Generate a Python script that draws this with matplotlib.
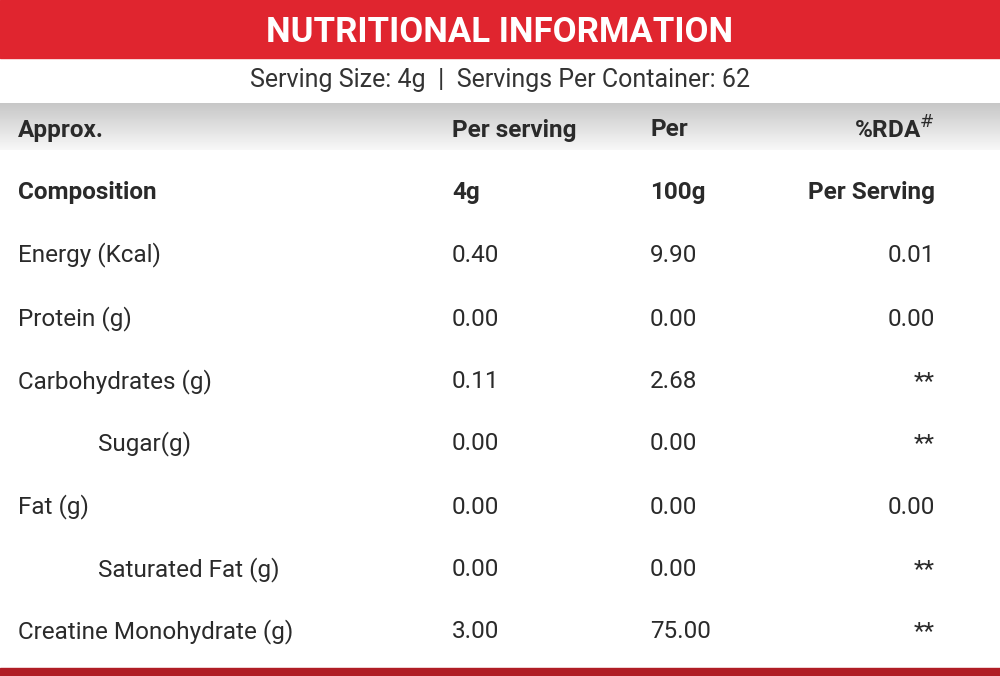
import matplotlib
matplotlib.use("Agg")
import matplotlib.pyplot as plt
import numpy as np

title = "NUTRITIONAL INFORMATION"
serving = "Serving Size: 4g  |  Servings Per Container: 62"
header1 = ["Approx.", "Per serving", "Per", "%RDA$^{\\#}$"]
header2 = ["Composition", "4g", "100g", "Per Serving"]
labels = ["Energy (Kcal)", "Protein (g)", "Carbohydrates (g)", "Sugar(g)", "Fat (g)",
          "Saturated Fat (g)", "Creatine Monohydrate (g)"]
indent = [False, False, False, True, False, True, False]
per_serving = ["0.40", "0.00", "0.11", "0.00", "0.00", "0.00", "3.00"]
per_100g = ["9.90", "0.00", "2.68", "0.00", "0.00", "0.00", "75.00"]
rda = ["0.01", "0.00", "**", "**", "0.00", "**", "**"]

W, H = 1000, 676
fig = plt.figure(figsize=(10, 6.76), dpi=100)
ax = fig.add_axes([0, 0, 1, 1])
ax.set_xlim(0, W); ax.set_ylim(H, 0); ax.axis("off")

red = "#e0252f"
ax.add_patch(plt.Rectangle((0, 0), W, 58, color=red))
ax.text(500, 32, title, color="white", fontsize=25, fontweight="bold", ha="center",
        va="center", family="Roboto")
ax.text(500, 80, serving, color="#333333", fontsize=18, ha="center", va="center", family="Roboto")
grad = np.linspace(0.78, 0.97, 100)[:, None]
ax.imshow(np.repeat(grad, 2, axis=1), cmap="gray", vmin=0, vmax=1, extent=(0, W, 150, 103),
          aspect="auto", zorder=0)
ax.add_patch(plt.Rectangle((0, 668), W, 8, color="#b01d25"))

fs = 17.5
tc = "#2a2a2a"
cols = [18, 452, 650, 935]
def row(y, vals, bold=False, x0=18):
    kw = dict(fontsize=fs, va="center", color=tc, family="Roboto",
              fontweight="bold" if bold else "normal")
    ax.text(x0, y, vals[0], ha="left", **kw)
    ax.text(cols[1], y, vals[1], ha="left", **kw)
    ax.text(cols[2], y, vals[2], ha="left", **kw)
    ax.text(cols[3], y, vals[3], ha="right", **kw)

row(130, header1, True)
row(192, header2, True)
ys = [255, 319, 382, 444, 507, 570, 632]
for y, l, ind, a, b, c in zip(ys, labels, indent, per_serving, per_100g, rda):
    row(y, [l, a, b, c], x0=98 if ind else 18)

fig.savefig("out.png", dpi=100)
